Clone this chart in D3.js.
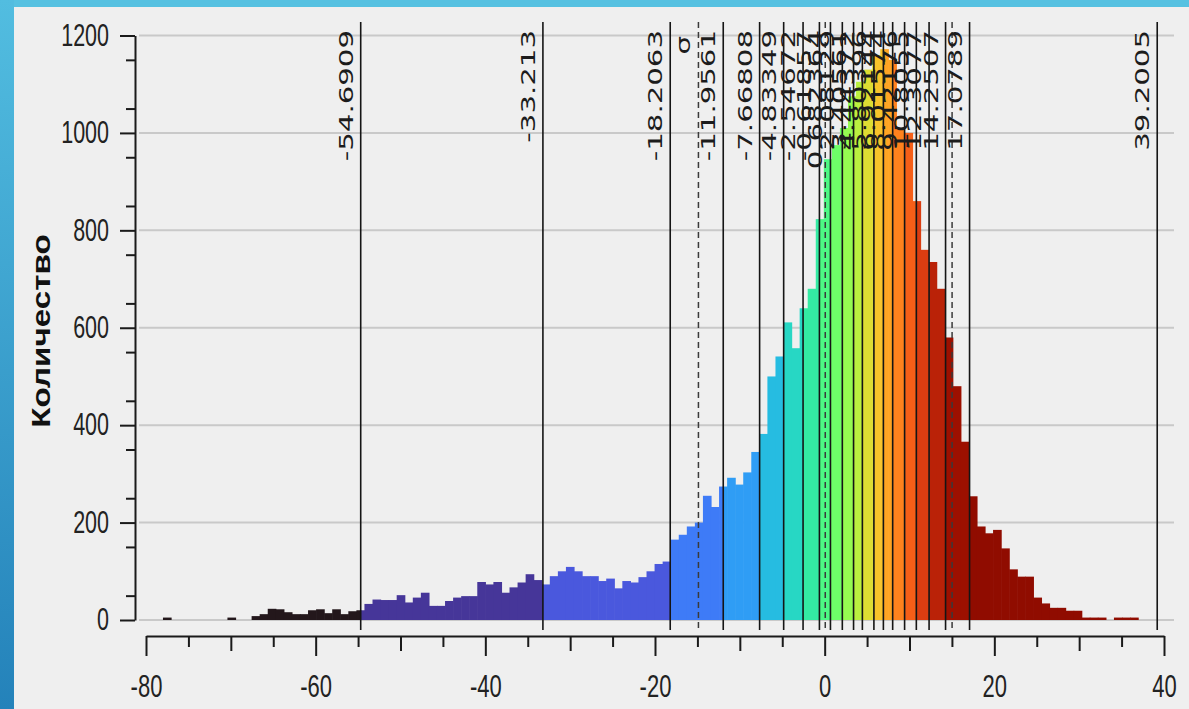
<!DOCTYPE html>
<html>
<head>
<meta charset="utf-8">
<script src="https://cdn.jsdelivr.net/npm/d3@7"></script>
<style>
  html, body { margin: 0; padding: 0; overflow: hidden; background: #efefef; }
  svg { display: block; }
</style>
</head>
<body>
<svg id="chart" width="1189" height="709"></svg>
<script>
const width = 1189
const height = 709

// histogram bins: first edge, bin width, counts per bin
const binStart = -78
const binWidth = 0.95
const counts = [
  5, 0, 0, 0, 0, 0, 0, 0, 5, 0,
  0, 8, 12, 23, 22, 16, 12, 12, 20, 22,
  14, 22, 12, 18, 20, 33, 42, 41, 41, 51,
  36, 46, 56, 29, 29, 39, 46, 49, 49, 78,
  73, 78, 56, 67, 77, 94, 82, 73, 90, 100,
  109, 100, 90, 90, 80, 85, 65, 80, 77, 88,
  100, 115, 120, 165, 175, 192, 200, 255, 232, 274,
  292, 278, 303, 345, 382, 500, 541, 611, 558, 640,
  680, 823, 946, 975, 1010, 1075, 1105, 1130, 1160, 1172,
  1150, 1010, 1000, 860, 760, 735, 680, 580, 480, 366,
  254, 192, 178, 185, 147, 104, 89, 89, 46, 34,
  25, 25, 19, 19, 5, 5, 5, 0, 5, 5,
  5
]

// class breaks (vertical lines with labels)
const breaks = [
  -54.6909, -33.213, -18.2063, -11.9561, -7.66808, -4.83349, -2.54672,
  -0.61857, 0.682364, 2.08129, 3.40561, 4.44372, 5.80396, 6.92144,
  8.01574, 9.42176, 10.8055, 12.3077, 14.2507, 17.0789, 39.2005
]

// mean and standard deviation (dashed lines)
const mean = 0.07
const stdDev = 14.95

const yTicks = [0, 200, 400, 600, 800, 1000, 1200]
const yMinorTicks = d3.range(50, 1200, 100)
const xTicks = [-80, -60, -40, -20, 0, 20, 40]
const xMidTicks = [-70, -50, -30, -10, 10, 30]
const xMinorTicks = [-75, -65, -55, -45, -35, -25, -15, -5, 5, 15, 25, 35]

const svg = d3.select('#chart')

// blue frame
const defs = svg.append('defs')
const grad = defs.append('linearGradient')
  .attr('id', 'frame').attr('x1', 0).attr('y1', 0).attr('x2', 0).attr('y2', 1)
grad.append('stop').attr('offset', '0%').attr('stop-color', '#52bde0')
grad.append('stop').attr('offset', '100%').attr('stop-color', '#2482ba')

svg.append('rect').attr('width', width).attr('height', height).attr('fill', '#efefef')
svg.append('rect').attr('x', 0).attr('y', 0).attr('width', width).attr('height', 7).attr('fill', '#56c1e1')
svg.append('rect').attr('x', 0).attr('y', 0).attr('width', 14).attr('height', height).attr('fill', 'url(#frame)')

const x = d3.scaleLinear().domain([-80, 40]).range([146, 1164])
const y = d3.scaleLinear().domain([0, 1200]).range([620, 35.5])

// grid
svg.append('g')
  .selectAll('line')
  .data(yTicks)
  .join('line')
  .attr('x1', 139).attr('x2', 1174)
  .attr('y1', y).attr('y2', y)
  .attr('stroke', '#c9c9c9')
  .attr('stroke-width', 2)

// bars, split at class breaks so colours change exactly on the lines
const color = k => d3.interpolateTurbo(k / (breaks.length - 1))
const bins = counts.map((c, i) => ({
  x0: binStart + i * binWidth,
  x1: binStart + (i + 1) * binWidth,
  count: c
}))
const pieces = bins.filter(b => b.count > 0).flatMap(b => {
  const edges = [b.x0, ...breaks.filter(v => v > b.x0 && v < b.x1), b.x1]
  return d3.pairs(edges).map(([a, e]) => ({
    x0: a, x1: e, count: b.count,
    cls: d3.bisectRight(breaks, (a + e) / 2)
  }))
})

svg.append('g')
  .selectAll('rect')
  .data(pieces)
  .join('rect')
  .attr('x', d => x(d.x0))
  .attr('width', d => x(d.x1) - x(d.x0) + 0.6)
  .attr('y', d => y(d.count))
  .attr('height', d => y(0) - y(d.count))
  .attr('fill', d => color(d.cls))

// class break lines
svg.append('g')
  .selectAll('line')
  .data(breaks)
  .join('line')
  .attr('x1', x).attr('x2', x)
  .attr('y1', 22).attr('y2', 630)
  .attr('stroke', '#151515')
  .attr('stroke-width', 1.6)

// mean / sigma lines
const stats = [mean - stdDev, mean, mean + stdDev]
svg.append('g')
  .selectAll('line')
  .data(stats)
  .join('line')
  .attr('x1', x).attr('x2', x)
  .attr('y1', 22).attr('y2', 630)
  .attr('stroke', '#3a3a3a')
  .attr('stroke-width', 1.5)
  .attr('stroke-dasharray', '6,4')

// rotated labels
const labelStyle = sel => sel
  .attr('text-anchor', 'end')
  .attr('font-family', 'DejaVu Sans, sans-serif')
  .attr('font-size', 20)
  .attr('fill', '#1c1c1c')

svg.append('g')
  .selectAll('text')
  .data(breaks)
  .join('text')
  .call(labelStyle)
  .attr('transform', d => `translate(${x(d) - 8},30) rotate(-90) scale(1.46,1)`)
  .text(d => String(d))

svg.append('text')
  .call(labelStyle)
  .attr('transform', `translate(${x(mean - stdDev) - 8},36) rotate(-90) scale(1.46,1)`)
  .text('σ')

// y axis
const yAxis = svg.append('g').attr('transform', 'translate(135,0)')
yAxis.call(d3.axisLeft(y).tickValues(yTicks).tickSize(15).tickSizeOuter(0).tickPadding(11).tickFormat(d => String(d)))
yAxis.append('g').call(d3.axisLeft(y).tickValues(yMinorTicks).tickSize(9).tickFormat(''))
  .select('.domain').remove()
yAxis.selectAll('path, line').attr('stroke', '#1a1a1a').attr('stroke-width', 2)
yAxis.selectAll('text')
  .attr('font-family', 'Liberation Sans, Arial, sans-serif')
  .attr('font-size', 21.5)
  .attr('fill', '#222')
  .attr('transform', 'scale(1,1.42)')

svg.append('text')
  .attr('transform', 'translate(50,331) rotate(-90) scale(1.33,1)')
  .attr('text-anchor', 'middle')
  .attr('font-family', 'Liberation Sans, Arial, sans-serif')
  .attr('font-weight', 'bold')
  .attr('font-size', 25)
  .attr('fill', '#111')
  .text('Количество')

// x axis
const xAxis = svg.append('g').attr('transform', 'translate(0,636)')
xAxis.call(d3.axisBottom(x).tickValues(xTicks).tickSize(20).tickSizeOuter(0).tickFormat(d => String(d)))
xAxis.append('g').call(d3.axisBottom(x).tickValues(xMidTicks).tickSize(15).tickFormat(''))
  .select('.domain').remove()
xAxis.append('g').call(d3.axisBottom(x).tickValues(xMinorTicks).tickSize(11).tickFormat(''))
  .select('.domain').remove()
xAxis.selectAll('path, line').attr('stroke', '#1a1a1a').attr('stroke-width', 2)
xAxis.selectAll('text')
  .attr('y', 0).attr('dy', 0)
  .attr('font-family', 'Liberation Sans, Arial, sans-serif')
  .attr('font-size', 22)
  .attr('fill', '#222')
  .attr('transform', 'translate(0,61) scale(1,1.45)')
</script>
</body>
</html>
